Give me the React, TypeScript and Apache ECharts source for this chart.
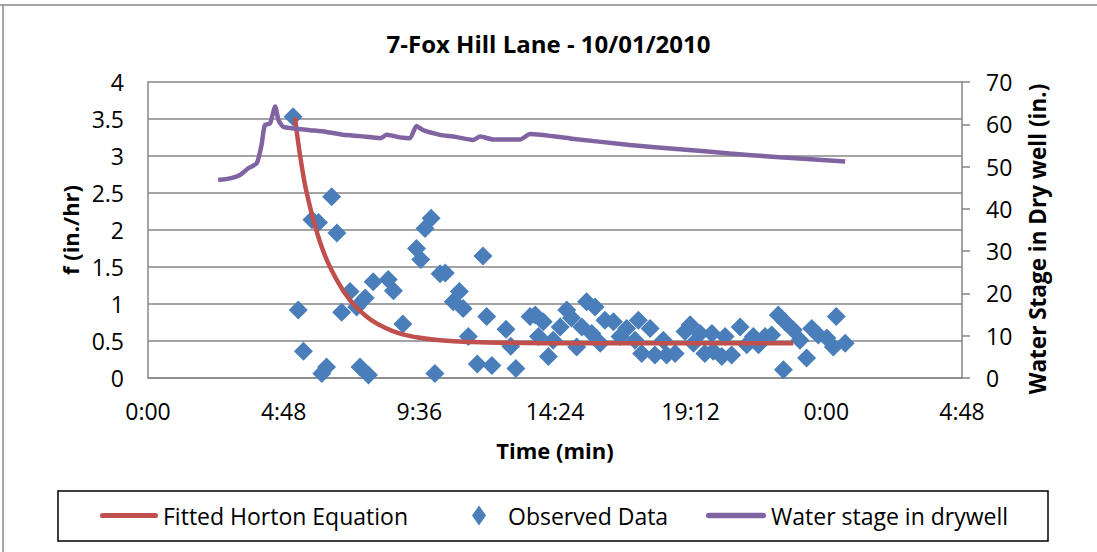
import React, { useEffect, useRef } from "react";
import * as echarts from "echarts";

// Time in minutes from 0:00 of 10/01/2010
const xTicks = [0, 288, 576, 864, 1152, 1440, 1728];

// Fitted Horton Equation (time min, f in./hr)
const hortonT = [312, 318, 325, 333, 340, 350, 360, 370, 380, 392, 405, 420, 437, 455, 475, 500, 530, 570, 620, 690, 780, 900, 1050, 1200, 1370];
const hortonF = [3.52, 3.22, 2.92, 2.62, 2.42, 2.16, 1.94, 1.75, 1.59, 1.43, 1.28, 1.13, 0.99, 0.88, 0.78, 0.69, 0.61, 0.55, 0.51, 0.485, 0.475, 0.47, 0.47, 0.47, 0.47];

// Observed Data (time min, f in./hr)
const obsT = [308, 319, 330, 348, 362, 369, 379, 390, 401, 411, 429, 443, 450, 461, 468, 478, 510, 521, 541, 570, 579, 588, 601, 609, 620, 631, 648, 661, 669, 680, 699, 711, 719, 730, 760, 770, 781, 811, 822, 829, 839, 850, 860, 875, 889, 899, 910, 921, 931, 942, 949, 960, 970, 988, 1002, 1016, 1034, 1041, 1048, 1066, 1076, 1094, 1101, 1119, 1140, 1151, 1158, 1172, 1182, 1197, 1200, 1218, 1225, 1239, 1257, 1271, 1285, 1296, 1310, 1324, 1338, 1349, 1352, 1370, 1384, 1398, 1409, 1423, 1441, 1455, 1461, 1480];
const obsF = [3.53, 0.92, 0.36, 2.14, 2.1, 0.06, 0.15, 2.45, 1.96, 0.89, 1.17, 0.96, 0.15, 1.08, 0.04, 1.3, 1.33, 1.18, 0.73, 1.75, 1.6, 2.02, 2.16, 0.06, 1.41, 1.42, 1.03, 1.17, 0.94, 0.56, 0.19, 1.65, 0.83, 0.17, 0.66, 0.43, 0.13, 0.83, 0.85, 0.56, 0.76, 0.29, 0.51, 0.69, 0.92, 0.81, 0.42, 0.69, 1.03, 0.6, 0.96, 0.47, 0.78, 0.76, 0.56, 0.67, 0.51, 0.78, 0.33, 0.67, 0.31, 0.51, 0.31, 0.33, 0.63, 0.72, 0.47, 0.6, 0.33, 0.6, 0.36, 0.29, 0.56, 0.31, 0.69, 0.45, 0.56, 0.45, 0.56, 0.58, 0.85, 0.11, 0.76, 0.65, 0.51, 0.27, 0.67, 0.58, 0.54, 0.42, 0.83, 0.47];

// Water stage in drywell (time min, inches)
const stageT = [149, 174, 195, 213, 231, 241, 248, 259, 270, 277, 287, 309, 344, 379, 415, 450, 493, 507, 535, 556, 570, 584, 620, 648, 691, 705, 733, 790, 811, 900, 1023, 1129, 1235, 1341, 1480];
const stageV = [46.8, 47.2, 48.0, 49.6, 50.8, 55.1, 59.8, 60.2, 64.2, 61.0, 59.4, 59.0, 58.6, 58.2, 57.5, 57.2, 56.7, 57.5, 56.9, 56.7, 59.6, 58.6, 57.5, 57.1, 56.3, 57.1, 56.4, 56.4, 57.7, 56.6, 55.1, 54.1, 53.1, 52.2, 51.2];

const FONT = "'Open Sans', sans-serif";

function fmtTime(v: number): string {
  const m = Math.round(v) % 1440;
  const h = Math.floor(m / 60);
  const mm = m % 60;
  return `${h}:${mm < 10 ? "0" + mm : mm}`;
}

export default function App() {
  const ref = useRef<HTMLDivElement>(null);
  useEffect(() => {
    if (!ref.current) return;
    const chart = echarts.init(ref.current, undefined, { renderer: "svg" });
    const legendText = { fontFamily: FONT, fontSize: 23, color: "#000" };
    const lineIcon = "path://M2,0 L54,0 A2.5,2.5 0 0 1 54,5 L2,5 A2.5,2.5 0 0 1 2,0 Z";
    chart.setOption({
      animation: false,
      backgroundColor: "#fff",
      title: {
        text: "7-Fox Hill Lane - 10/01/2010",
        left: "center",
        top: 26,
        textStyle: { fontFamily: FONT, fontSize: 24, fontWeight: "bold", color: "#000" },
      },
      grid: { left: 148, right: 135, top: 82, bottom: 174, containLabel: false },
      xAxis: {
        type: "value",
        min: 0,
        max: 1728,
        interval: 288,
        name: "Time (min)",
        nameLocation: "middle",
        nameGap: 61,
        nameTextStyle: { fontFamily: FONT, fontSize: 22, fontWeight: "bold", color: "#000" },
        axisLine: { lineStyle: { color: "#868686", width: 1.5 } },
        axisTick: { show: false },
        splitLine: { show: false },
        axisLabel: {
          fontFamily: FONT,
          fontSize: 23,
          color: "#000",
          margin: 21,
          formatter: (v: number) => fmtTime(v),
        },
      },
      yAxis: [
        {
          type: "value",
          min: 0,
          max: 4,
          interval: 0.5,
          name: "f (in./hr)",
          nameLocation: "middle",
          nameGap: 64,
          nameTextStyle: { fontFamily: FONT, fontSize: 22, fontWeight: "bold", color: "#000" },
          axisLine: { show: true, lineStyle: { color: "#868686", width: 1.5 } },
          axisTick: { show: false },
          splitLine: { show: true, lineStyle: { color: "#868686", width: 1.5 } },
          axisLabel: { fontFamily: FONT, fontSize: 23, color: "#000", margin: 24 },
        },
        {
          type: "value",
          min: 0,
          max: 70,
          interval: 10,
          position: "right",
          name: "Water Stage in Dry well (in.)",
          nameLocation: "middle",
          nameGap: 64,
          nameRotate: 90,
          nameTextStyle: { fontFamily: FONT, fontSize: 22.5, fontWeight: "bold", color: "#000", padding: [0, 18, 0, 0] },
          axisLine: { show: true, lineStyle: { color: "#868686", width: 1.5 } },
          axisTick: { show: true, length: 8, inside: false, lineStyle: { color: "#868686", width: 1.5 } },
          splitLine: { show: false },
          axisLabel: { fontFamily: FONT, fontSize: 23, color: "#000", margin: 24 },
        },
      ],
      legend: [
        {
          data: [{ name: "Fitted Horton Equation", icon: lineIcon }],
          left: 95,
          top: 499,
          itemWidth: 58,
          itemHeight: 20,
          textStyle: legendText,
        },
        {
          data: [{ name: "Observed Data", icon: "path://M7,0 L14,10 L7,20 L0,10 Z" }],
          left: 467,
          top: 499,
          itemWidth: 48,
          itemHeight: 20,
          textStyle: legendText,
        },
        {
          data: [{ name: "Water stage in drywell", icon: lineIcon }],
          left: 701,
          top: 499,
          itemWidth: 60,
          itemHeight: 20,
          textStyle: legendText,
        },
      ],
      graphic: [
        { type: "line", shape: { x1: 0, y1: 5, x2: 1097, y2: 5 }, style: { stroke: "#888", lineWidth: 1.5 }, silent: true },
        { type: "line", shape: { x1: 3, y1: 5, x2: 3, y2: 552 }, style: { stroke: "#888", lineWidth: 1.5 }, silent: true },
        { type: "rect", shape: { x: 58, y: 491, width: 990, height: 50 }, style: { fill: "none", stroke: "#000", lineWidth: 1.5 }, silent: true },
      ],
      series: [
        {
          name: "Fitted Horton Equation",
          type: "line",
          yAxisIndex: 0,
          data: hortonT.map((t, i) => [t, hortonF[i]]),
          showSymbol: false,
          symbol: "none",
          smooth: true,
          lineStyle: { color: "#C0504D", width: 4.5 },
          itemStyle: { color: "#C0504D" },
        },
        {
          name: "Observed Data",
          type: "scatter",
          yAxisIndex: 0,
          data: obsT.map((t, i) => [t, obsF[i]]),
          symbol: "diamond",
          symbolSize: 19,
          itemStyle: { color: "#4A7EBB", opacity: 1 },
        },
        {
          name: "Water stage in drywell",
          type: "line",
          yAxisIndex: 1,
          data: stageT.map((t, i) => [t, stageV[i]]),
          showSymbol: false,
          symbol: "none",
          smooth: 0.2,
          lineStyle: { color: "#8064A2", width: 4.5 },
          itemStyle: { color: "#8064A2" },
        },
      ],
    });
    return () => chart.dispose();
  }, []);
  return (
    <div
      ref={ref}
      style={{ position: "absolute", left: 0, top: 0, width: 1097, height: 552 }}
    />
  );
}
